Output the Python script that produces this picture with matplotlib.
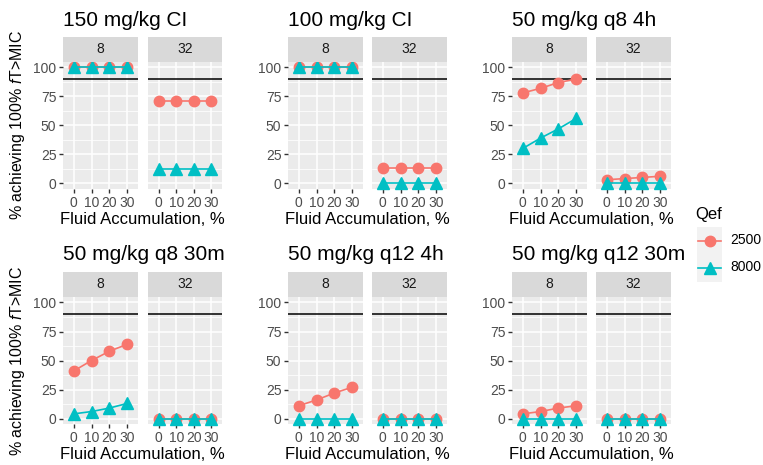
import matplotlib
matplotlib.use("Agg")
import matplotlib.pyplot as plt

plt.rcParams['font.family'] = ['Liberation Sans', 'DejaVu Sans']
plt.rcParams['mathtext.fontset'] = 'custom'
plt.rcParams['mathtext.it'] = 'Liberation Sans:italic'
plt.rcParams['mathtext.rm'] = 'Liberation Sans'

# ---- data ----
fluid_acc = ["0", "10", "20", "30"]
mics = ["8", "32"]
qef_levels = ["2500", "8000"]
titles = ["150 mg/kg CI", "100 mg/kg CI", "50 mg/kg q8 4h",
          "50 mg/kg q8 30m", "50 mg/kg q12 4h", "50 mg/kg q12 30m"]

ci150_mic8_2500 = [100, 100, 100, 100]
ci150_mic8_8000 = [100, 100, 100, 100]
ci150_mic32_2500 = [71, 71, 71, 71]
ci150_mic32_8000 = [12, 12, 12, 12]

ci100_mic8_2500 = [100, 100, 100, 100]
ci100_mic8_8000 = [100, 100, 100, 100]
ci100_mic32_2500 = [13, 13, 13, 13]
ci100_mic32_8000 = [0, 0, 0, 0]

q8_4h_mic8_2500 = [78, 82, 87, 90]
q8_4h_mic8_8000 = [30, 39, 47, 56]
q8_4h_mic32_2500 = [3, 4, 5, 6]
q8_4h_mic32_8000 = [0, 0, 0, 0]

q8_30m_mic8_2500 = [41, 50, 58, 64]
q8_30m_mic8_8000 = [4, 6, 9, 13]
q8_30m_mic32_2500 = [0, 0, 0, 0]
q8_30m_mic32_8000 = [0, 0, 0, 0]

q12_4h_mic8_2500 = [11, 16, 22, 27]
q12_4h_mic8_8000 = [0, 0, 0, 0]
q12_4h_mic32_2500 = [0, 0, 0, 0]
q12_4h_mic32_8000 = [0, 0, 0, 0]

q12_30m_mic8_2500 = [4, 6, 9, 11]
q12_30m_mic8_8000 = [0, 0, 0, 0]
q12_30m_mic32_2500 = [0, 0, 0, 0]
q12_30m_mic32_8000 = [0, 0, 0, 0]

target_line = 90

panel_data = [
    [(ci150_mic8_2500, ci150_mic8_8000), (ci150_mic32_2500, ci150_mic32_8000)],
    [(ci100_mic8_2500, ci100_mic8_8000), (ci100_mic32_2500, ci100_mic32_8000)],
    [(q8_4h_mic8_2500, q8_4h_mic8_8000), (q8_4h_mic32_2500, q8_4h_mic32_8000)],
    [(q8_30m_mic8_2500, q8_30m_mic8_8000), (q8_30m_mic32_2500, q8_30m_mic32_8000)],
    [(q12_4h_mic8_2500, q12_4h_mic8_8000), (q12_4h_mic32_2500, q12_4h_mic32_8000)],
    [(q12_30m_mic8_2500, q12_30m_mic8_8000), (q12_30m_mic32_2500, q12_30m_mic32_8000)],
]

# ---- layout (pixels) ----
W, H = 763, 465
fig = plt.figure(figsize=(W / 100, H / 100), dpi=100)

col_facets = [[(63, 138), (148, 222)],
              [(288, 363), (372, 447)],
              [(512, 587), (596, 671)]]
rows = [dict(strip_top=36.7, panel_top=61.7, panel_bot=189.0, title_base=25.5),
        dict(strip_top=271.7, panel_top=296.7, panel_bot=424.3, title_base=260.5)]

colors = {"2500": "#F8766D", "8000": "#00BFC4"}
markers = {"2500": "o", "8000": "^"}
msizes = {"2500": 7.5, "8000": 8.5}

def fig_rect(l, r, t, b):
    return [l / W, 1 - b / H, (r - l) / W, (b - t) / H]

xpos = list(range(1, len(fluid_acc) + 1))

for p, title in enumerate(titles):
    ri, ci = divmod(p, 3)
    row = rows[ri]
    for fi, (l, r) in enumerate(col_facets[ci]):
        ax = fig.add_axes(fig_rect(l, r, row['panel_top'], row['panel_bot']))
        ax.set_facecolor("#EBEBEB")
        for s in ax.spines.values():
            s.set_visible(False)
        ax.set_xlim(0.4, 4.6)
        ax.set_ylim(-5, 105)
        ax.set_yticks([0, 25, 50, 75, 100])
        ax.set_yticks([12.5, 37.5, 62.5, 87.5], minor=True)
        ax.set_xticks(xpos)
        ax.set_xticklabels(fluid_acc)
        ax.grid(True, which='major', color='white', lw=1.1)
        ax.grid(True, which='minor', axis='y', color='white', lw=0.55)
        ax.set_axisbelow(True)
        ax.tick_params(which='major', length=2.75, width=1.0, color='#333333',
                       labelsize=10, labelcolor='#4D4D4D', pad=2)
        ax.tick_params(which='minor', length=0)
        if fi == 1:
            ax.set_yticklabels([])
            ax.tick_params(axis='y', length=0)
        ax.axhline(target_line, color='black', lw=1.1, zorder=2)
        for qi, q in enumerate(qef_levels):
            ax.plot(xpos, panel_data[p][fi][qi], color=colors[q], lw=1.2,
                    marker=markers[q], ms=msizes[q], zorder=3 + qi, clip_on=False)
        # strip
        sax = fig.add_axes(fig_rect(l, r, row['strip_top'], row['panel_top']))
        sax.set_facecolor("#D9D9D9")
        sax.set_xticks([]); sax.set_yticks([])
        for s in sax.spines.values():
            s.set_visible(False)
        sax.text(0.5, 0.5, mics[fi], ha='center', va='center', fontsize=10,
                 color='#1A1A1A', transform=sax.transAxes)
    # title
    l0 = col_facets[ci][0][0]
    fig.text(l0 / W, 1 - row['title_base'] / H, title, ha='left', va='baseline',
             fontsize=15, color='black')
    # x label
    xc = (col_facets[ci][0][0] + col_facets[ci][1][1]) / 2
    fig.text(xc / W, 1 - (row['panel_bot'] + 35) / H, "Fluid Accumulation, %",
             ha='center', va='baseline', fontsize=12, color='black')
    # y label only first column
    if ci == 0:
        yc = (row['panel_top'] + row['panel_bot']) / 2
        fig.text(18 / W, 1 - yc / H, r"% achieving 100% $\mathit{f}$T>MIC",
                 rotation=90, ha='center', va='center', fontsize=11.5, color='black')

# legend
fig.text(695 / W, 1 - 219 / H, "Qef", ha='left', va='baseline', fontsize=12)
lax = fig.add_axes(fig_rect(697, 722, 227, 282))
lax.set_xlim(0, 1); lax.set_ylim(0, 2)
lax.set_facecolor("#F2F2F2")
lax.set_xticks([]); lax.set_yticks([])
for s in lax.spines.values():
    s.set_visible(False)
for qi, q in enumerate(qef_levels):
    yk = 1.5 - qi
    lax.plot([0.05, 0.95], [yk, yk], color=colors[q], lw=1.2)
    lax.plot([0.5], [yk], color=colors[q], marker=markers[q], ms=msizes[q])
    fig.text(730 / W, 1 - (240 + 27 * qi) / H, q, ha='left', va='center',
             fontsize=10, color='black')

fig.savefig("out.png", dpi=100, facecolor='white')
